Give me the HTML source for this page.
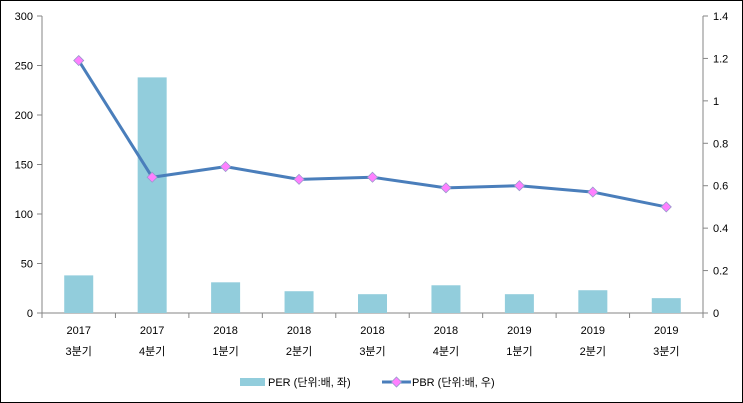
<!DOCTYPE html>
<html><head><meta charset="utf-8"><style>
html,body{margin:0;padding:0;background:#fff}
svg{display:block;font-family:"Liberation Sans","Noto Sans CJK KR",sans-serif}
</style></head><body>
<svg id="c" width="743" height="403" viewBox="0 0 743 403">
<rect x="0.5" y="0.5" width="742" height="402" fill="#fff" stroke="#000"/>
<g id="g"></g>
</svg>
<script>
const categoriesYear = ["2017","2017","2018","2018","2018","2018","2019","2019","2019"];
const categoriesQ = ["3분기","4분기","1분기","2분기","3분기","4분기","1분기","2분기","3분기"];
const perValues = [38, 238, 31, 22, 19, 28, 19, 23, 15];
const pbrValues = [1.19, 0.64, 0.69, 0.63, 0.64, 0.59, 0.60, 0.57, 0.50];
const leftTicks = [0, 50, 100, 150, 200, 250, 300];
const rightTicks = ["0","0.2","0.4","0.6","0.8","1","1.2","1.4"];

const NS="http://www.w3.org/2000/svg";
const g=document.getElementById('g');
function mk(t,a,p){const e=document.createElementNS(NS,t);for(const k in a)e.setAttribute(k,a[k]);(p||g).appendChild(e);return e;}
const X0=42,X1=703,Y0=313,Y1=16;
const bw=(X1-X0)/categoriesYear.length;
const xc=i=>X0+bw*(i+0.5);
const yL=v=>Y0-(v/300)*(Y0-Y1);
const yR=v=>Y0-(v/1.4)*(Y0-Y1);

let e;
e=mk('line',{x1:X0,y1:Y1,x2:X0,y2:Y0,stroke:'#868686'});


e=mk('line',{x1:X1,y1:Y1,x2:X1,y2:Y0,stroke:'#868686'});


e=mk('line',{x1:X0,y1:Y0,x2:X1,y2:Y0,stroke:'#868686'});



leftTicks.forEach(v=>{
  const y=yL(v);
  mk('line',{x1:X0-5,y1:y,x2:X0,y2:y,stroke:'#868686'});
  e=mk('text',{x:X0-9,y:y+4,'text-anchor':'end','font-size':11,fill:'#000'});
  e.textContent=v;
  
  
});
rightTicks.forEach(s=>{
  const y=yR(parseFloat(s));
  mk('line',{x1:X1,y1:y,x2:X1+5,y2:y,stroke:'#868686'});
  e=mk('text',{x:X1+10,y:y+4,'font-size':11,fill:'#000'});
  e.textContent=s;
  
  
});
for(let i=0;i<=categoriesYear.length;i++){
  const x=X0+bw*i;
  mk('line',{x1:x,y1:Y0,x2:x,y2:Y0+5,stroke:'#868686'});
}
categoriesYear.forEach((c,i)=>{
  e=mk('text',{x:xc(i),y:334,'text-anchor':'middle','font-size':11,fill:'#000'});
  e.textContent=c;
  
  
  e=mk('text',{x:xc(i),y:355,'text-anchor':'middle','font-size':11,fill:'#000'});
  e.textContent=categoriesQ[i];
  
  
});
perValues.forEach((v,i)=>{
  e=mk('rect',{x:xc(i)-14.5,y:yL(v),width:29,height:Y0-yL(v),fill:'#92cddc'});
  
  
});
e=mk('polyline',{points:pbrValues.map((v,i)=>xc(i)+','+yR(v)).join(' '),fill:'none',stroke:'#4a7ebb','stroke-width':3,'stroke-linejoin':'round'});


pbrValues.forEach((v,i)=>{
  const x=xc(i),y=yR(v);
  e=mk('polygon',{points:`${x},${y-5} ${x+5},${y} ${x},${y+5} ${x-5},${y}`,fill:'#ff80ff',stroke:'#9999cc','stroke-width':0.8});
  
  
});
// legend
e=mk('rect',{x:240,y:378,width:25,height:8,fill:'#92cddc'});


e=mk('text',{x:268,y:386,'font-size':11,fill:'#000'});
e.textContent='PER (단위:배, 좌)';


e=mk('line',{x1:382,y1:382,x2:411,y2:382,stroke:'#4a7ebb','stroke-width':3});


e=mk('polygon',{points:'396.5,377 401.5,382 396.5,387 391.5,382',fill:'#ff80ff',stroke:'#9999cc','stroke-width':0.8});


e=mk('text',{x:412,y:386,'font-size':11,fill:'#000'});
e.textContent='PBR (단위:배, 우)';


</script>
</body></html>
